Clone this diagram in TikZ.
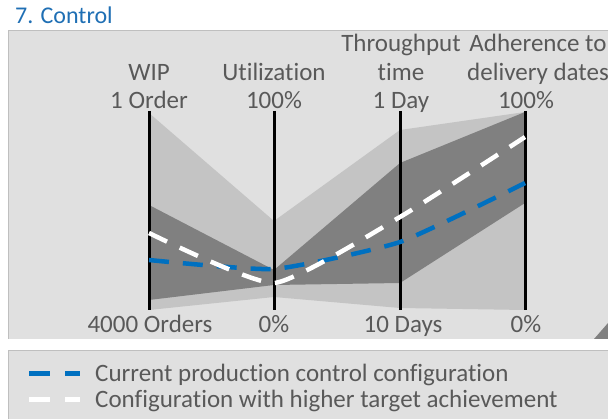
\documentclass[tikz,border=0pt]{standalone}
\usepackage{fontspec}
\setmainfont{Carlito}[Ligatures=NoCommon]
\definecolor{panelgray}{HTML}{E0E0E0}
\definecolor{edgegray}{HTML}{BFBFBF}
\definecolor{rangelight}{HTML}{C4C4C4}
\definecolor{rangedark}{HTML}{808080}
\definecolor{labelgray}{HTML}{595959}
\definecolor{curblue}{HTML}{0070C0}
\definecolor{titleblue}{HTML}{1F6FB4}

\begin{document}
\begin{tikzpicture}[x=1pt, y=-1pt,
    axislabel/.style={text=labelgray, font=\fontsize{25}{28.5}\selectfont, align=center, inner sep=0pt, text depth=0pt, anchor=south},
    scalelabel/.style={text=labelgray, font=\fontsize{25}{28.5}\selectfont, inner sep=0pt, anchor=base},
    legendtext/.style={text=labelgray, font=\fontsize{25}{28.5}\selectfont, inner sep=0pt, anchor=base west},
    axisline/.style={black, line width=3pt},
    curline/.style={curblue, line width=4.5pt, dash pattern=on 20pt off 14pt},
    targetline/.style={white, line width=4.5pt, dash pattern=on 20pt off 14pt}]
        \useasboundingbox (0,0) rectangle (608,419);
        % panels
        \fill[panelgray] (8,31) rectangle (608,339);
        \draw[edgegray, line width=1pt] (8,339) -- (8,31) -- (608,31);
        \fill[panelgray] (8,351) rectangle (608,419);
        \draw[edgegray, line width=1pt] (8,419) -- (8,351) -- (608,351);
        \node[anchor=base west, inner sep=0pt, text=titleblue, font=\fontsize{24}{28}\selectfont] (title) at (15,24) {7. Control};
        % ranges
        \fill[rangelight] (149,113) -- (274,221) -- (400,130) -- (525,112) -- (525,310) -- (400,308) -- (274,297) -- (149,310) -- cycle;
        \fill[rangedark] (149,205) -- (274,270) -- (400,163) -- (525,112) -- (525,203) -- (400,283) -- (274,285) -- (149,300) -- cycle;
        \fill[rangedark] (594,339) -- (608,323) -- (608,339) -- cycle;
        % axes
        \coordinate (wipTop) at (149,111);
        \coordinate (wipBot) at (149,310);
        \coordinate (utilTop) at (274,111);
        \coordinate (utilBot) at (274,310);
        \coordinate (timeTop) at (400,111);
        \coordinate (timeBot) at (400,310);
        \coordinate (dateTop) at (525,111);
        \coordinate (dateBot) at (525,310);
        \draw[axisline] (wipTop) -- (wipBot);
        \draw[axisline] (utilTop) -- (utilBot);
        \draw[axisline] (timeTop) -- (timeBot);
        \draw[axisline] (dateTop) -- (dateBot);
        \node[axislabel] (wipName) at (149,109) {WIP\\1 Order};
        \node[axislabel] (utilName) at (274,109) {Utilization\\100\%};
        \node[axislabel] (timeName) at (401,109) {Throughput\\time\\1 Day};
        \node[axislabel] (dateName) at (538,80.5) {Adherence to\\delivery dates};
        \node[axislabel] (dateMax) at (526,109) {100\%};
        \node[scalelabel] (wipMin) at (150,333) {4000 Orders};
        \node[scalelabel] (utilMin) at (274,333) {0\%};
        \node[scalelabel] (timeMin) at (403,333) {10 Days};
        \node[scalelabel] (dateMin) at (526,333) {0\%};
        % configurations
        \draw[curline] plot[smooth, tension=0.3] coordinates {(149,260) (274,269) (400,242) (525,183)};
        \draw[targetline] plot[smooth, tension=0.3] coordinates {(149,233) (274,283) (400,217) (525,137)};
        % legend
        \coordinate (curA) at (29,374);
        \coordinate (curB) at (80,374);
        \coordinate (targetA) at (29,400);
        \coordinate (targetB) at (80,400);
        \draw[curblue, line width=5pt, dash pattern=on 21pt off 15pt] (curA) -- (curB);
        \draw[white, line width=5pt, dash pattern=on 21pt off 15pt] (targetA) -- (targetB);
        \node[legendtext] (curText) at (95,382) {Current production control configuration};
        \node[legendtext] (targetText) at (95,408) {Configuration with higher target achievement};
    \end{tikzpicture}
\end{document}
